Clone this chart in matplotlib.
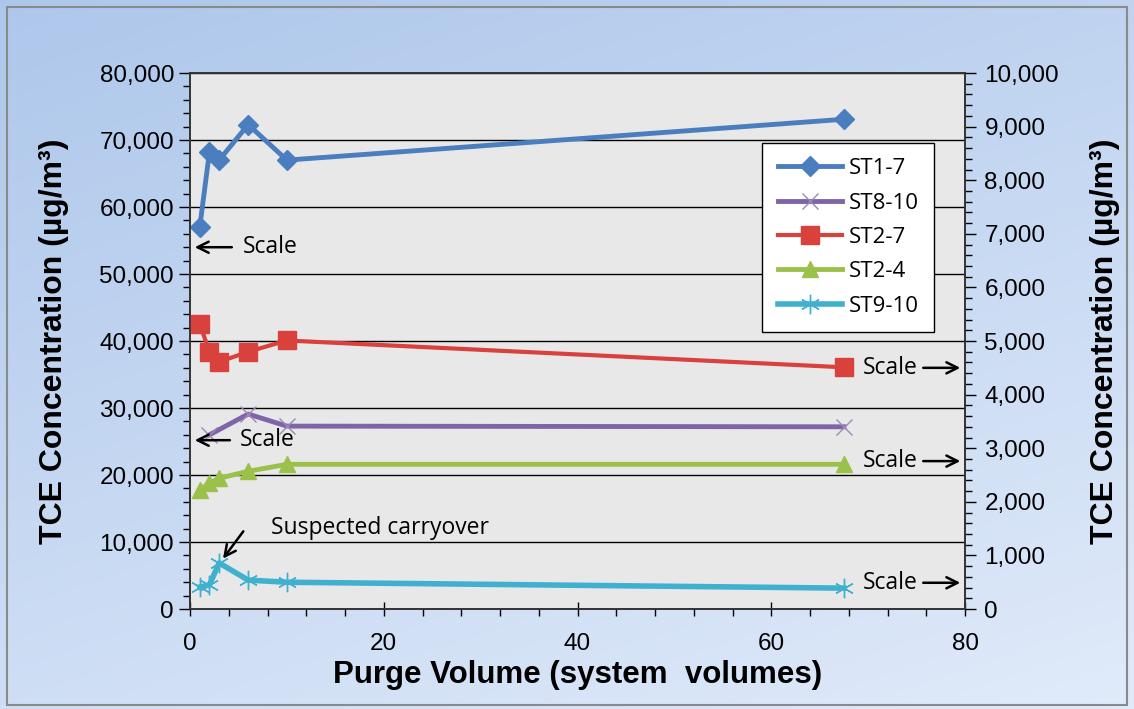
import numpy as np
import matplotlib.pyplot as plt
from matplotlib.ticker import MultipleLocator, FuncFormatter

# purge volumes (system volumes)
x_st1_7 = [1, 2, 3, 6, 10, 67.5]
x_st8_10 = [2, 6, 10, 67.5]
x_right = [1, 2, 3, 6, 10, 67.5]

# left axis series (ug/m3)
st1_7 = [57000, 68200, 67000, 72300, 67000, 73100]
st8_10 = [26000, 29100, 27300, 27200]

# right axis series (ug/m3)
st2_7 = [5320, 4800, 4610, 4800, 5010, 4510]
st2_4 = [2220, 2350, 2440, 2570, 2700, 2700]
st9_10 = [410, 450, 860, 540, 500, 390]

c_blue = "#4a7ebf"
c_purple = "#8064a8"
c_red = "#d9413d"
c_green = "#9bc14b"
c_cyan = "#3fb1cf"

plt.rcParams["font.family"] = ["Liberation Sans", "DejaVu Sans"]

fig = plt.figure(figsize=(11.34, 7.09), dpi=100)

# blue gradient backdrop with a thin gray frame
bg = fig.add_axes([0, 0, 1, 1], zorder=-10)
gy, gx = np.mgrid[0:1:200j, 0:1:300j]
t = np.clip(0.65 * gy + 0.35 * gx, 0, 1)
top = np.array([0.68, 0.78, 0.92])
bot = np.array([0.88, 0.92, 0.98])
img = top[None, None, :] * (1 - t[..., None]) + bot[None, None, :] * t[..., None]
bg.imshow(img, extent=[0, 1, 0, 1], aspect="auto", origin="upper")
bg.add_patch(plt.Rectangle((0.006, 0.006), 0.988, 0.984, fill=False,
                           edgecolor="#8a8a8a", lw=1.5, transform=bg.transAxes))
bg.set_xlim(0, 1)
bg.set_ylim(0, 1)
bg.axis("off")

ax = fig.add_axes([0.1676, 0.141, 0.6834, 0.756])
ax.set_facecolor("#e8e8e8")
ax2 = ax.twinx()

ax.set_xlim(0, 80)
ax.set_ylim(0, 80000)
ax2.set_ylim(0, 10000)

ax.yaxis.set_major_locator(MultipleLocator(10000))
ax.yaxis.set_minor_locator(MultipleLocator(2000))
ax2.yaxis.set_major_locator(MultipleLocator(1000))
ax2.yaxis.set_minor_locator(MultipleLocator(200))
ax.xaxis.set_major_locator(MultipleLocator(20))
ax.xaxis.set_minor_locator(MultipleLocator(4))

fmt = FuncFormatter(lambda v, p: f"{int(v):,}")
ax.yaxis.set_major_formatter(fmt)
ax2.yaxis.set_major_formatter(fmt)

ax.grid(axis="y", which="major", color="black", lw=1)
ax.set_axisbelow(True)

for a in (ax, ax2):
    for s in a.spines.values():
        s.set_color("#333333")
        s.set_linewidth(1.2)

ax.tick_params(axis="both", which="major", labelsize=17.5, length=8, width=1,
               direction="out", colors="black")
ax.tick_params(axis="x", which="major", direction="inout", length=10, pad=12)
ax.tick_params(axis="both", which="minor", length=5, width=1, direction="out")
ax2.tick_params(axis="y", which="major", labelsize=17.5, length=8, width=1, pad=6)
ax2.tick_params(axis="y", which="minor", length=5, width=1)

ax.set_xlabel("Purge Volume (system  volumes)", fontsize=22.5, fontweight="bold", labelpad=4)
ax.set_ylabel("TCE Concentration (µg/m³)", fontsize=23, fontweight="bold", labelpad=22)
ax2.set_ylabel("TCE Concentration (µg/m³)", fontsize=23, fontweight="bold", labelpad=22)

h1, = ax.plot(x_st1_7, st1_7, color=c_blue, lw=3.5, marker="D", ms=10,
              label="ST1-7", zorder=5)
h2, = ax.plot(x_st8_10, st8_10, color=c_purple, lw=3.5, marker="x", ms=12,
              mew=1, mec="#9a8ab5", label="ST8-10", zorder=5)
h3, = ax2.plot(x_right, st2_7, color=c_red, lw=3, marker="s", ms=13,
               label="ST2-7", zorder=5)
h4, = ax2.plot(x_right, st2_4, color=c_green, lw=3.5, marker="^", ms=11,
               label="ST2-4", zorder=5)
h5, = ax2.plot(x_right, st9_10, color=c_cyan, lw=4, marker=(6, 2, 0), ms=14,
               mew=1, label="ST9-10", zorder=5)

leg = ax2.legend(handles=[h1, h2, h3, h4, h5], loc="upper left",
                 bbox_to_anchor=(0.738, 0.87), frameon=True, fancybox=False,
                 prop={"family": ["Open Sans", "DejaVu Sans"], "size": 16},
                 handlelength=2.9, labelspacing=0.6, borderpad=0.7,
                 handletextpad=0.3, borderaxespad=0)
leg.get_frame().set_edgecolor("black")
leg.get_frame().set_linewidth(1)
leg.get_frame().set_facecolor("white")
leg.get_frame().set_alpha(1)

note_font = {"family": ["Open Sans", "DejaVu Sans"], "size": 16.5}
arrow = dict(arrowstyle="->", color="black", lw=1.8, mutation_scale=20)

# left-scale markers
ax.annotate("", xy=(0.2, 54000), xytext=(4.6, 54000), arrowprops=arrow, zorder=6)
ax.text(5.4, 54000, "Scale", va="center", ha="left", zorder=6, **note_font)
ax.annotate("", xy=(0.2, 25200), xytext=(4.4, 25200), arrowprops=arrow, zorder=6)
ax.text(5.1, 25200, "Scale", va="center", ha="left", zorder=6, **note_font)

# right-scale markers
for yv in (4500, 2760, 490):
    ax2.text(69.4, yv, "Scale", va="center", ha="left", zorder=6, **note_font)
    ax2.annotate("", xy=(79.8, yv), xytext=(75.4, yv), arrowprops=arrow, zorder=6)

ax2.text(8.4, 1520, "Suspected carryover", va="center", ha="left", zorder=6, **note_font)
ax2.annotate("", xy=(3.4, 940), xytext=(5.5, 1450),
             arrowprops=dict(arrow, shrinkA=0, shrinkB=0), zorder=6)

fig.savefig("out.png", dpi=100)
